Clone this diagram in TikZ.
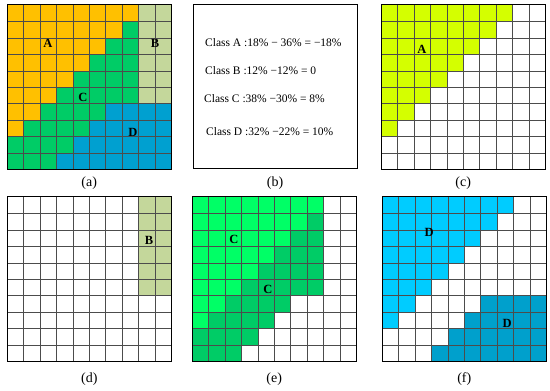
\documentclass[tikz,border=0pt]{standalone}
\usepackage{fontspec}
\setmainfont{Liberation Serif}
\usepackage{xcolor}
\usetikzlibrary{positioning,calc}
\definecolor{clsA}{RGB}{255,192,0}
\definecolor{clsB}{RGB}{196,215,155}
\definecolor{clsC}{RGB}{0,204,102}
\definecolor{clsD}{RGB}{0,160,208}
\definecolor{limeA}{RGB}{212,255,0}
\definecolor{lightC}{RGB}{0,255,102}
\definecolor{lightD}{RGB}{0,204,255}
\definecolor{darkD}{RGB}{0,160,204}
\tikzset{
  cellgrid/.style={draw=black!70, line width=0.5pt},
  frame/.style={draw=black, line width=1pt},
  lbl/.style={font=\bfseries\fontsize{12.5}{12.5}\selectfont, inner sep=0pt},
  subcap/.style={font=\fontsize{14}{14}\selectfont, inner sep=0pt},
  eqn/.style={font=\fontsize{11.5}{11.5}\selectfont, anchor=west, inner sep=0pt},
}
% row/first column/last column of each region
\def\triA{0/0/7,1/0/6,2/0/5,3/0/4,4/0/3,5/0/2,6/0/1,7/0/0}
\def\regB{0/8/9,1/8/9,2/8/9,3/8/9,4/8/9,5/8/9}
\def\regC{1/7/7,2/6/7,3/5/7,4/4/7,5/3/7,6/2/5,7/1/4,8/0/3,9/0/2}
\def\regD{6/6/9,7/5/9,8/4/9,9/3/9}
\newcommand{\fillrows}[2]{\foreach \rr/\ca/\cb in #2 {\fill[#1] (\ca,\rr) rectangle (\cb+1,\rr+1);}}
\newcommand{\gridframe}{%
  \foreach \k in {1,...,9} {\draw[cellgrid] (\k,0) -- (\k,10); \draw[cellgrid] (0,\k) -- (10,\k);}
  \draw[frame] (0,0) rectangle (10,10);}

\begin{document}
\begin{tikzpicture}[
    x=1pt, y=1pt,
    panel/.style={x=16.45pt, y=-16.45pt},
  ]
  \useasboundingbox (0,0) rectangle (550,391);
  % (a) all four classes
  \begin{scope}[shift={(7pt,386pt)}, panel]
    \fillrows{clsA}{\triA}
    \fillrows{clsB}{\regB}
    \fillrows{clsC}{\regC}
    \fillrows{clsD}{\regD}
    \gridframe
    \node[lbl] (a-A) at (2.49,2.31) {A};
    \node[lbl] (a-B) at (9.0,2.31) {B};
    \node[lbl] (a-C) at (4.62,5.59) {C};
    \node[lbl] (a-D) at (7.66,7.72) {D};
    \node[subcap] (cap-a) at (5,10.85) {(a)};
  \end{scope}
  % (b) differences
  \begin{scope}[shift={(193pt,386pt)}, y=-1pt]
    \draw[frame] (0,0) rectangle (164,164);
    \node[eqn] (eq-A) at (12,38) {Class A :18\% − 36\% = −18\%};
    \node[eqn] (eq-B) at (12,66) {Class B :12\% −12\% = 0};
    \node[eqn] (eq-C) at (11,94) {Class C :38\% −30\% = 8\%};
    \node[eqn] (eq-D) at (13,127) {Class D :32\% −22\% = 10\%};
    \node[subcap] (cap-b) at (82,178) {(b)};
  \end{scope}
  % (c) class A
  \begin{scope}[shift={(381pt,386pt)}, panel]
    \fillrows{limeA}{\triA}
    \gridframe
    \node[lbl] (c-A) at (2.49,2.67) {A};
    \node[subcap] (cap-c) at (5,10.85) {(c)};
  \end{scope}
  % (d) class B
  \begin{scope}[shift={(7pt,194pt)}, panel]
    \fillrows{clsB}{\regB}
    \gridframe
    \node[lbl] (d-B) at (8.63,2.67) {B};
    \node[subcap] (cap-d) at (5,11.05) {(d)};
  \end{scope}
  % (e) class C
  \begin{scope}[shift={(192pt,194pt)}, panel]
    \fillrows{lightC}{\triA}
    \fillrows{clsC}{\regC}
    \gridframe
    \node[lbl] (e-C1) at (2.55,2.55) {C};
    \node[lbl] (e-C2) at (4.62,5.59) {C};
    \node[subcap] (cap-e) at (5,11.05) {(e)};
  \end{scope}
  % (f) class D
  \begin{scope}[shift={(382pt,194pt)}, panel]
    \fillrows{lightD}{\triA}
    \fillrows{darkD}{\regD}
    \gridframe
    \node[lbl] (f-D1) at (2.86,2.13) {D};
    \node[lbl] (f-D2) at (7.6,7.66) {D};
    \node[subcap] (cap-f) at (5,11.05) {(f)};
  \end{scope}
\end{tikzpicture}
\end{document}
